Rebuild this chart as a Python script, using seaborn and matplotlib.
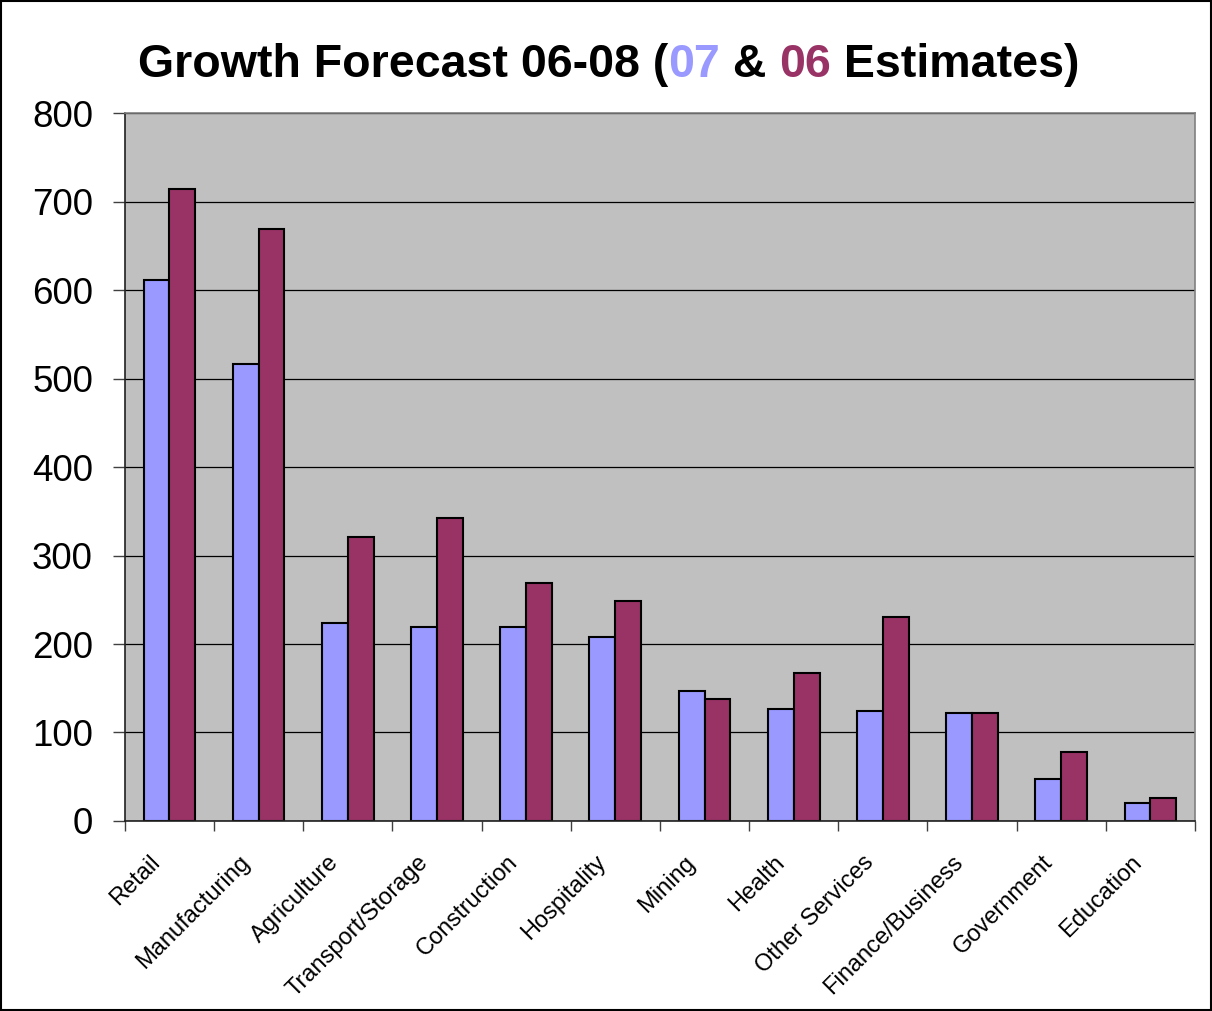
import seaborn as sns
import matplotlib.pyplot as plt
import matplotlib.transforms as mtrans
import pandas as pd

# values
sectors = ['Retail', 'Manufacturing', 'Agriculture', 'Transport/Storage', 'Construction',
           'Hospitality', 'Mining', 'Health', 'Other Services', 'Finance/Business',
           'Government', 'Education']
est_07 = [612, 517, 224, 219, 219, 208, 147, 127, 124, 122, 47, 20]
est_06 = [714, 669, 321, 343, 269, 249, 138, 167, 230, 122, 78, 26]

df = pd.DataFrame({
    'sector': sectors * 2,
    'value': est_07 + est_06,
    'estimate': ['07'] * len(sectors) + ['06'] * len(sectors),
})

sns.set_style('white')
plt.rcParams['font.family'] = ['Liberation Sans', 'DejaVu Sans']

fig = plt.figure(figsize=(12.12, 10.11), dpi=100)
ax = fig.add_axes([0.103, 0.188, 0.883, 0.700])
ax.set_facecolor('#C0C0C0')

sns.barplot(data=df, x='sector', y='value', hue='estimate', hue_order=['07', '06'],
            palette={'07': '#9999FF', '06': '#993366'}, width=0.58, gap=0,
            edgecolor='black', linewidth=1.5, saturation=1, legend=False, ax=ax)

ax.set_ylim(0, 800)
ax.set_xlim(-0.5, len(sectors) - 0.5)
ax.set_yticks(range(0, 801, 100))
ax.tick_params(axis='y', labelsize=26.5, labelcolor='black', direction='out', length=9,
               width=1, color='#404040', left=True, pad=14)
ax.yaxis.grid(True, color='black', linewidth=0.9)
ax.set_axisbelow(True)

# category ticks between groups, labels rotated
ax.set_xticks(range(len(sectors)))
ax.set_xticklabels(sectors, rotation=45, ha='right', rotation_mode='anchor', fontsize=17,
                   color='black')
ax.tick_params(axis='x', length=0, pad=22)
shift = mtrans.ScaledTranslation(-0.2, 0, fig.dpi_scale_trans)
for lab in ax.get_xticklabels():
    lab.set_transform(lab.get_transform() + shift)
ax.set_xticks([i - 0.5 for i in range(len(sectors) + 1)], minor=True)
ax.tick_params(axis='x', which='minor', length=7, width=1, color='#404040',
               direction='out', bottom=True)
ax.set_xlabel('')
ax.set_ylabel('')

for side in ['top', 'right']:
    ax.spines[side].set_color('#808080')
    ax.spines[side].set_linewidth(1.2)
for side in ['left', 'bottom']:
    ax.spines[side].set_color('#202020')
    ax.spines[side].set_linewidth(1.2)

# title with coloured parts
parts = [('Growth Forecast 06-08 (', 'black'), ('07', '#9999FF'), (' & ', 'black'),
         ('06', '#993366'), (' Estimates)', 'black')]
fig.canvas.draw()
renderer = fig.canvas.get_renderer()
texts = []
total = 0
for s, c in parts:
    t = fig.text(0, 0.936, s, color=c, fontsize=33.5, fontweight='bold', va='center', ha='left')
    w = t.get_window_extent(renderer=renderer).width / fig.bbox.width
    texts.append((t, w))
    total += w
x = 0.116 + (0.889 - 0.116 - total) / 2
for t, w in texts:
    t.set_x(x)
    x += w

fig.patches.append(plt.Rectangle((0.001, 0.001), 0.998, 0.998, transform=fig.transFigure,
                                 fill=False, edgecolor='black', linewidth=1.5))

fig.savefig('out.png', dpi=100)
